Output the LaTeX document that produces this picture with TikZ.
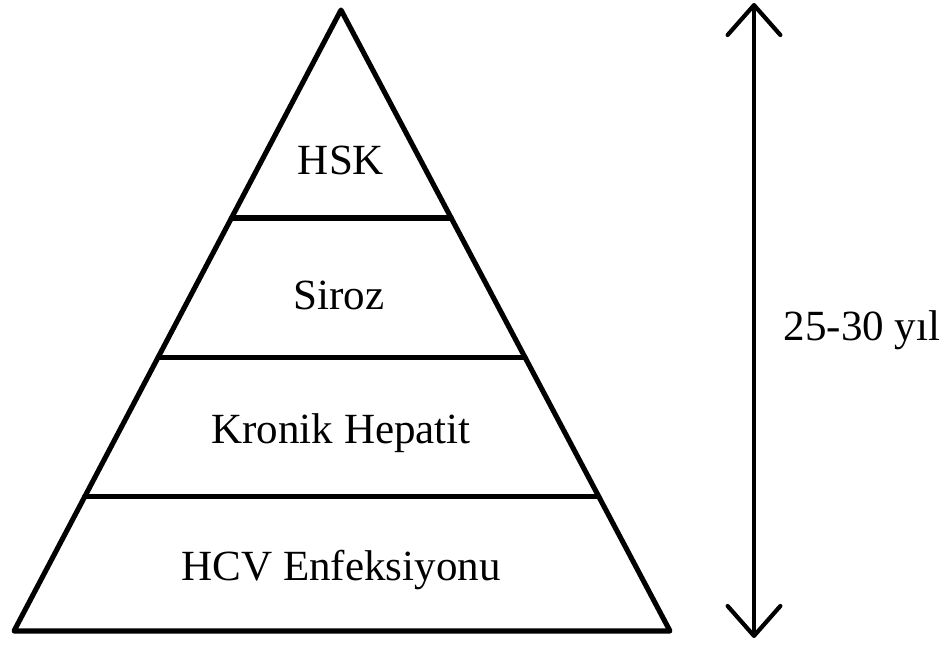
\documentclass[tikz,border=0pt]{standalone}
\usepackage{fontspec}
\setmainfont{Liberation Serif}
\usetikzlibrary{calc,arrows.meta}

\begin{document}
\begin{tikzpicture}[x=0.02cm,y=-0.02cm,
    level/.style={line width=2.9pt, line cap=round},
    layer/.style={font=\fontsize{24.5}{28}\selectfont, anchor=center}]
    \useasboundingbox (0,0) rectangle (948,645);
    \coordinate (apex) at (341,10);
    \coordinate (bl) at (14,631);
    \coordinate (br) at (670,631);
    % pyramid outline
    \draw [level, line join=round] (apex) -- (bl) -- (br) -- cycle;

    % dividing lines
    \draw [level] ($(apex)!0.335!(bl)$) -- ($(apex)!0.335!(br)$);
    \draw [level] ($(apex)!0.560!(bl)$) -- ($(apex)!0.560!(br)$);
    \draw [level] ($(apex)!0.784!(bl)$) -- ($(apex)!0.784!(br)$);

    % layer labels
    \node [layer] (hsk) at (341,160) {HSK};
    \node [layer] (siroz) at (339,295) {Siroz};
    \node [layer] (kronik) at (341,433) {Kronik Hepatit};
    \node [layer] (hcv) at (341,570) {HCV Enfeksiyonu};

    % time arrow
    \coordinate (top) at (754,3);
    \coordinate (bottom) at (754,638);
    \draw [line width=2.4pt, {Straight Barb[length=17pt,width=30pt,round]}-{Straight Barb[length=17pt,width=30pt,round]}] (bottom) -- (top);
    \node [layer] (years) at (862,330) {25-30 yıl};
\end{tikzpicture}
\end{document}
